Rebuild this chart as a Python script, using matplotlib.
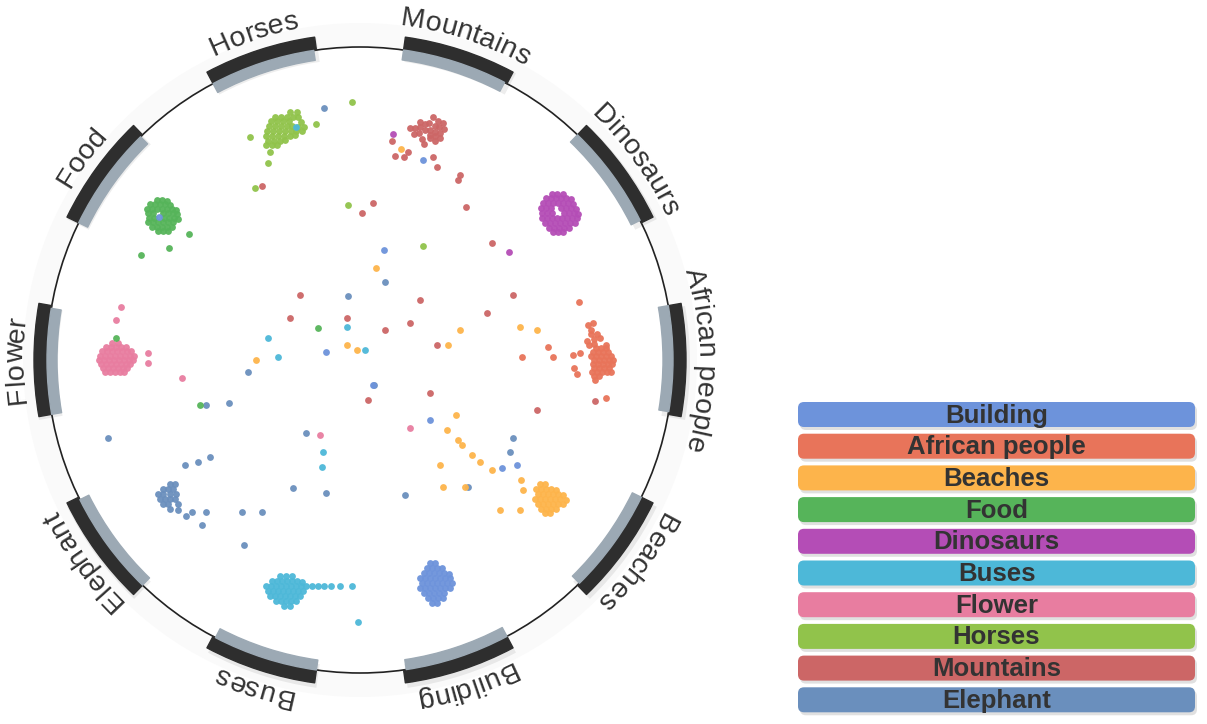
import numpy as np
import matplotlib.pyplot as plt
from matplotlib.patches import Wedge, Circle, FancyBboxPatch
from matplotlib.font_manager import FontProperties
from matplotlib.textpath import TextToPath

# legend order
categories = ["Building", "African people", "Beaches", "Food", "Dinosaurs",
              "Buses", "Flower", "Horses", "Mountains", "Elephant"]
colors = ["#6d93db", "#e8745a", "#fdb44b", "#56b45a", "#b44db6",
          "#4db8d8", "#e87da0", "#91c34b", "#cc6666", "#6a8fbd"]

# ring order, clockwise from the top
ring_labels = ["Mountains", "Dinosaurs", "African people", "Beaches", "Building",
               "Buses", "Elephant", "Flower", "Food", "Horses"]

# embedding points (image frame)
building_pts = [(430,563),(435,563),(427,568),(432,568),(437,568),(442,568),
    (424,573),(429,573),(434,573),(439,573),(444,573),(449,574),
    (420,578),(425,578),(430,578),(435,578),(440,578),(445,578),(450,578),
    (422,583),(427,583),(432,583),(437,583),(442,583),(447,583),(452,583),
    (420,588),(425,588),(430,588),(435,588),(440,588),(445,588),(450,588),
    (424,593),(429,593),(434,593),(439,593),(444,593),
    (428,598),(433,598),(438,598),(443,598),(432,603),(437,603),
    (159,217),(423,160),(384,250),(326,352),(430,420),(517,465),(502,468),(373,385)]
african_pts = [(579,302),(588,325),(593,323),(591,330),(591,334),(597,334),(587,341),
    (594,339),(600,338),(589,345),(594,344),(606,345),(573,355),(580,353),
    (596,348),(601,348),(606,348),(593,352),(598,352),(603,352),(608,352),
    (591,356),(596,356),(601,356),(606,356),(611,356),
    (594,360),(599,360),(604,360),(609,360),(613,360),
    (593,364),(598,364),(603,364),(608,364),(612,364),
    (594,368),(599,368),(604,368),(609,368),
    (592,372),(597,372),(602,372),(607,372),(611,372),(594,376),(599,376),
    (574,368),(577,374),(595,380),(606,398),(522,357),(548,347),(553,357)]
beaches_pts = [(540,484),(545,484),(536,489),(541,489),(546,489),(551,489),(556,490),
    (538,494),(543,494),(548,494),(553,494),(558,494),(563,495),
    (535,499),(540,499),(545,499),(550,499),(555,499),(560,499),(566,500),
    (538,504),(543,504),(548,504),(553,504),(558,504),(563,504),
    (541,509),(546,509),(551,509),(556,509),(545,513),(550,513),
    (523,490),(521,480),(520,510),(500,510),(440,465),(443,487),(465,487),
    (456,415),(458,440),(447,430),(462,445),(472,455),(480,462),(492,470),
    (520,327),(537,330),(376,268),(448,345),(460,330),(256,360),(347,345),
    (357,350),(401,149)]
food_pts = [(157,200),(162,200),(167,201),(150,204),(155,204),(160,204),(165,204),(170,205),
    (147,209),(152,209),(157,209),(162,209),(167,209),(172,209),(176,210),
    (148,213),(153,213),(163,213),(168,213),(173,213),(177,214),
    (149,218),(154,218),(164,218),(169,218),(174,218),(178,219),
    (148,222),(153,222),(158,222),(163,222),(168,222),(173,222),
    (152,227),(157,227),(162,227),(167,227),(172,227),(158,231),(163,231),(168,231),
    (189,234),(169,248),(141,255),(116,338),(318,328),(200,405)]
dino_pts = [(552,194),(557,194),(563,194),(546,198),(551,198),(556,198),(561,198),(566,198),(571,199),
    (543,203),(548,203),(553,203),(558,203),(563,203),(568,203),(573,204),
    (541,208),(546,208),(551,208),(561,208),(566,208),(571,208),(576,209),
    (542,213),(547,213),(552,213),(564,213),(569,213),(574,213),(578,214),
    (542,218),(547,218),(552,218),(557,218),(562,218),(567,218),(572,218),(577,218),
    (545,223),(550,223),(555,223),(560,223),(565,223),(570,223),(575,223),
    (549,228),(554,228),(559,228),(564,228),(569,228),(553,232),(558,232),(563,232),
    (509,252),(393,134)]
buses_pts = [(280,576),(286,576),(292,576),
    (272,581),(277,581),(282,581),(287,581),(292,581),(297,581),(302,582),
    (266,586),(271,586),(276,586),(281,586),(286,586),(291,586),(296,586),(301,586),(306,586),(312,586),(318,586),
    (268,591),(273,591),(278,591),(283,591),(288,591),(293,591),(298,591),(303,591),
    (270,596),(275,596),(280,596),(285,596),(290,596),(295,596),(300,596),
    (276,601),(281,601),(286,601),(291,601),(296,601),(284,606),(290,606),
    (324,586),(331,586),(340,586),(352,586),(358,622),
    (322,467),(323,452),(347,327),(365,350),(278,357),(268,338),(296,127)]
flower_pts = [(112,343),(118,343),(106,347),(111,347),(116,347),(121,347),(126,347),
    (102,351),(107,351),(112,351),(117,351),(122,351),(127,351),(131,351),
    (100,356),(105,356),(110,356),(115,356),(120,356),(125,356),(130,356),(134,356),
    (99,360),(104,360),(109,360),(114,360),(119,360),(124,360),(129,360),(133,360),
    (101,364),(106,364),(111,364),(116,364),(121,364),(126,364),(130,364),
    (103,368),(108,368),(113,368),(118,368),(123,368),(127,368),
    (105,372),(110,372),(115,372),(120,372),(124,372),
    (121,307),(116,320),(148,353),(148,363),(182,378),(320,435),(410,428)]
horses_pts = [(290,112),(297,112),(275,117),(281,117),(287,117),(293,117),(298,117),
    (271,121),(277,121),(283,121),(289,121),(301,122),
    (269,126),(275,126),(281,126),(287,126),(292,126),(298,127),(304,127),
    (267,131),(273,131),(279,131),(285,131),(291,131),(296,131),(302,131),
    (266,136),(272,136),(278,136),(284,136),(290,136),(295,135),
    (268,141),(274,141),(280,141),(285,140),(266,145),(272,145),(277,145),
    (250,137),(270,152),(268,163),(255,188),(316,124),(352,102),(423,246),(348,205)]
mountains_pts = [(433,117),(420,122),(438,121),(443,123),(425,124),(429,123),(410,128),(415,128),
    (420,127),(435,126),(439,127),(444,129),(414,134),(419,133),(425,130),(430,130),(435,132),
    (440,133),(430,135),(435,136),(440,138),(422,139),(430,138),(435,141),(424,144),
    (392,141),(408,152),(395,156),(404,157),(433,157),(437,167),(460,175),(458,180),
    (262,186),(373,203),(362,213),(466,207),(492,243),(595,401),(420,300),(385,330),
    (347,318),(410,323),(437,345),(487,313),(537,410),(430,393),(368,400),(290,318),(300,295),
    (513,295)]
elephant_pts = [(170,484),(175,484),(163,489),(168,489),(173,489),
    (158,494),(163,494),(170,494),(176,494),(160,499),(165,499),(170,499),(175,499),
    (163,504),(168,504),(178,504),(170,509),
    (185,465),(198,462),(210,457),(178,510),(186,516),(192,512),(202,525),(206,512),
    (242,512),(262,512),(244,545),(229,403),(108,438),(293,488),(326,493),(405,495),
    (468,487),(513,438),(510,452),(348,296),(324,108),(385,282),(374,385),(248,372),(306,433),(206,405)]
all_pts = [building_pts, african_pts, beaches_pts, food_pts, dino_pts,
           buses_pts, flower_pts, horses_pts, mountains_pts, elephant_pts]

W, H = 1207, 724
cx, cy, R = 360, 360, 313

fig = plt.figure(figsize=(W / 100, H / 100), dpi=100)
ax = fig.add_axes([0, 0, 1, 1])
ax.set_xlim(0, W)
ax.set_ylim(H, 0)
ax.axis("off")

# faint halo + circle
ax.add_patch(Wedge((cx, cy), R + 24, 0, 360, width=24, color="#fafafa", lw=0, zorder=0))
ax.add_patch(Circle((cx, cy), R, fill=False, ec="#222222", lw=1.2, zorder=2))

# category arcs
for i, lab in enumerate(ring_labels):
    phi = 18 + 36 * i
    t1, t2 = phi - 10 - 90, phi + 10 - 90
    ax.add_patch(Wedge((cx + 2, cy + 3), R + 15, t1, t2, width=24, color="#000000", alpha=0.07, lw=0, zorder=2))
    ax.add_patch(Wedge((cx, cy), R + 13, t1, t2, width=13, fc="#2e2e2e", ec="#2e2e2e", lw=1, joinstyle="round", zorder=3))
    ax.add_patch(Wedge((cx, cy), R, t1, t2 - 0.5, width=10, fc="#9ca9b4", ec="#9ca9b4", lw=1, joinstyle="round", zorder=3))

# curved labels
fp = FontProperties(family="Liberation Sans", size=20.5)
ttp = TextToPath()
k = 100 / 72

def tw(s):
    return ttp.get_text_width_height_descent(s, fp, ismath=False)[0] * k

r_txt = 337
for i, lab in enumerate(ring_labels):
    phi_c = 18 + 36 * i
    total = tw(lab)
    for j, ch in enumerate(lab):
        if ch == " ":
            continue
        off = tw(lab[:j + 1]) - tw(ch) / 2 - total / 2
        phi = phi_c + np.degrees(off / r_txt)
        x = cx + r_txt * np.sin(np.radians(phi))
        y = cy - r_txt * np.cos(np.radians(phi))
        ax.text(x, y, ch, fontproperties=fp, color="#333333", rotation=-phi,
                rotation_mode="anchor", ha="center", va="baseline", zorder=4)

# points
for pts, col in list(zip(all_pts, colors))[::-1]:
    xs = [p[0] for p in pts]
    ys = [p[1] for p in pts]
    ax.scatter(xs, ys, s=24, color=col, lw=0, alpha=0.95, zorder=5)

# legend
lx, lw_, lh, top, step = 798, 397, 25, 402, 31.7
for i, (cat, col) in enumerate(zip(categories, colors)):
    y0 = top + i * step
    ax.add_patch(FancyBboxPatch((lx + 2, y0 + 3), lw_, lh, boxstyle="round,pad=0,rounding_size=6",
                                fc="#000000", alpha=0.12, lw=0, zorder=2))
    ax.add_patch(FancyBboxPatch((lx, y0), lw_, lh, boxstyle="round,pad=0,rounding_size=6",
                                fc=col, ec="none", zorder=3))
    ax.text(lx + lw_ / 2, y0 + lh / 2 + 1, cat, ha="center", va="center", fontsize=18.5,
            fontweight="bold", family="Liberation Sans", color="#333333", zorder=4)

fig.savefig("out.png", dpi=100)
